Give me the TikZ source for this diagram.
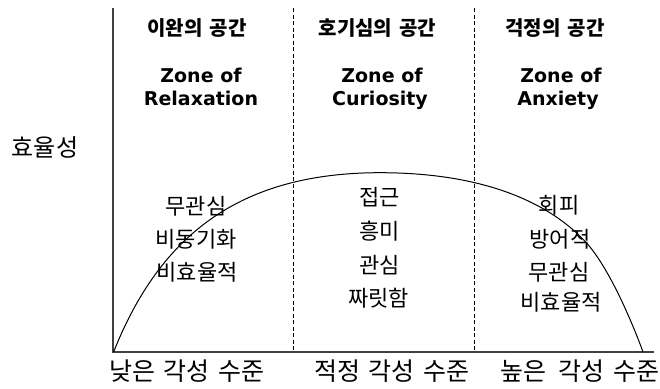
\documentclass[tikz,border=0pt]{standalone}
\usepackage{fontspec}
\setmainfont{DejaVu Sans}
\newfontfamily\kr[WordSpace=2.2]{Noto Sans CJK KR}
\newfontfamily\krx[WordSpace=1.6]{Noto Sans CJK KR}
\begin{document}
\begin{tikzpicture}[x=1pt,y=-1pt,
  head/.style={font=\kr\bfseries\fontsize{20}{22}\selectfont, inner sep=0pt},
  zone/.style={font=\bfseries\fontsize{19}{21}\selectfont, inner sep=0pt, anchor=base},
  lab/.style={font=\kr\fontsize{22}{24}\selectfont, inner sep=0pt},
  axlab/.style={font=\krx\fontsize{25}{27}\selectfont, inner sep=0pt},
  axis/.style={line width=1.3pt, draw=black!75},
  zonesep/.style={line width=1pt, dash pattern=on 4pt off 2.5pt},
  curve/.style={line width=1pt}
]
\useasboundingbox[fill=white] (0,0) rectangle (660,388);

% axes
\coordinate (ytop) at (113,8);
\coordinate (orig) at (113,352);
\coordinate (xend) at (654,352);
\draw[axis] (ytop) -- (orig) -- (xend);

% zone separators
\coordinate (d1t) at (293,8);
\coordinate (d1b) at (293,352);
\coordinate (d2t) at (474,8);
\coordinate (d2b) at (474,352);
\draw[zonesep] (d1t) -- (d1b);
\draw[zonesep] (d2t) -- (d2b);

% curve
\coordinate (c0) at (113.6,352);
\coordinate (cpk) at (380,172.7);
\coordinate (cr) at (590,247);
\coordinate (ce) at (643,352);
\draw[curve] (c0) .. controls (160,235) and (240,172.7) .. (cpk)
  .. controls (505,172.7) and (564,216) .. (cr)
  .. controls (615,278) and (638,338) .. (ce);

% headings
\node[head] (h1) at (197,28) {이완의 공간};
\node[head] (h2) at (377.5,28) {호기심의 공간};
\node[head] (h3) at (555,28) {걱정의 공간};
\node[zone] (z1a) at (201,82) {Zone of};
\node[zone] (z1b) at (201,105) {Relaxation};
\node[zone] (z2a) at (382,82) {Zone of};
\node[zone] (z2b) at (380,105) {Curiosity};
\node[zone] (z3a) at (561,82) {Zone of};
\node[zone] (z3b) at (558,105) {Anxiety};

% y label
\node[font=\kr\fontsize{24}{26}\selectfont, inner sep=0pt] (ylab) at (45,147) {효율성};

% zone contents
\node[lab] (a1) at (196,206) {무관심};
\node[lab] (a2) at (196,239) {비동기화};
\node[lab] (a3) at (197,272) {비효율적};
\node[lab] (b1) at (379.5,197) {접근};
\node[lab] (b2) at (379.5,231) {흥미};
\node[lab] (b3) at (379.5,265) {관심};
\node[lab] (b4) at (378.6,298) {짜릿함};
\node[lab] (c1) at (559,205) {회피};
\node[lab] (c2) at (560,239) {방어적};
\node[lab] (c3) at (559,272) {무관심};
\node[lab] (c4) at (561,302.5) {비효율적};

% x labels
\node[axlab] (x1) at (187,371) {낮은 각성 수준};
\node[axlab] (x2) at (392,371) {적정 각성 수준};
\node[axlab] (x3) at (580,371) {높은\hspace{0.45em}각성 수준};
\end{tikzpicture}
\end{document}
